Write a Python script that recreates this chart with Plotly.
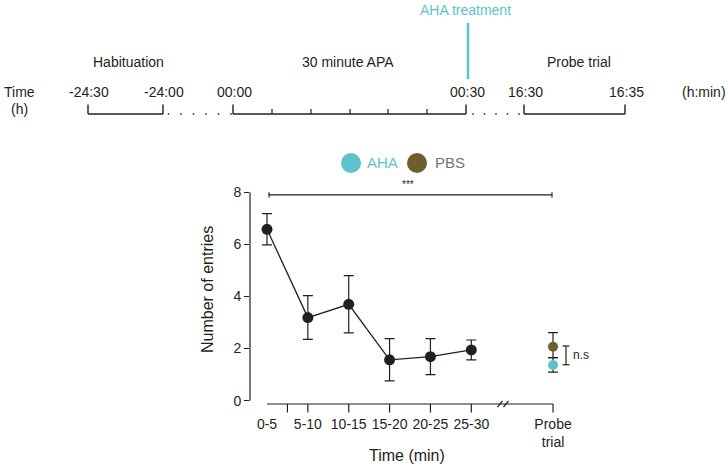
import plotly.graph_objects as go

# ---------------- data ----------------
time_bins = ["0-5", "5-10", "10-15", "15-20", "20-25", "25-30"]
entries_mean = [6.58, 3.19, 3.70, 1.57, 1.69, 1.95]
entries_err = [0.60, 0.84, 1.10, 0.81, 0.69, 0.38]
probe_label = "Probe<br>trial"
aha_probe_mean = [1.37]
aha_probe_err_plus = [0.28]
aha_probe_err_minus = [0.27]
pbs_probe_mean = [2.07]
pbs_probe_err_plus = [0.54]
pbs_probe_err_minus = [0.42]
y_tick_values = [0, 2, 4, 6, 8]
timeline_tick_labels = ["-24:30", "-24:00", "00:00", "00:30", "16:30", "16:35"]
phase_labels = ["Habituation", "30 minute APA", "Probe trial"]
treatment_label = "AHA treatment"
sig_main_label = "***"
sig_probe_label = "n.s"
legend_labels = ["AHA", "PBS"]

# ---------------- layout constants ----------------
W, H = 728, 466
L, R, T, B = 250, 600, 185, 404          # plot area in pixels
PX_PER_U = 40.86                          # x px per category step
X0_PX = 267                               # pixel of first category
PX_PER_Y = 26.05
Y_MIN = -0.127
Y_MAX = Y_MIN + (B - T) / PX_PER_Y

CYAN = "#5CC3CE"
BROWN = "#6E5E2C"
INK = "#231F20"
FONT = "Arial, Liberation Sans, Helvetica, sans-serif"

bin_x = list(range(len(time_bins)))
probe_x = 7
minor_tick_x = 0.5


def fx(px):
    return (px - L) / (R - L)


def fy(py):
    return (B - py) / (B - T)


def ux(px):
    return (px - X0_PX) / PX_PER_U


def note(text, x, y, size=14, color=INK, xref="paper", yref="paper", **kw):
    d = dict(text=text, xref=xref, yref=yref, x=x, y=y, showarrow=False,
             xanchor="center", yanchor="middle",
             font=dict(size=size, color=color, family=FONT))
    d.update(kw)
    return d


fig = go.Figure()

# main time course
fig.add_trace(go.Scatter(
    x=bin_x, y=entries_mean, mode="lines+markers",
    line=dict(color=INK, width=1.3),
    marker=dict(color=INK, size=11),
    error_y=dict(type="data", array=entries_err, color=INK, thickness=1.2, width=5),
    showlegend=False, hoverinfo="skip"))

# probe trial points
fig.add_trace(go.Scatter(
    x=[probe_x], y=pbs_probe_mean, mode="markers",
    marker=dict(color=BROWN, size=10),
    error_y=dict(type="data", array=pbs_probe_err_plus, arrayminus=pbs_probe_err_minus,
                 color=INK, thickness=1.2, width=5),
    showlegend=False, hoverinfo="skip"))
fig.add_trace(go.Scatter(
    x=[probe_x], y=aha_probe_mean, mode="markers",
    marker=dict(color=CYAN, size=10),
    error_y=dict(type="data", array=aha_probe_err_plus, arrayminus=aha_probe_err_minus,
                 color=INK, thickness=1.2, width=5),
    showlegend=False, hoverinfo="skip"))

shapes = []
annotations = []
line_style = dict(color=INK, width=1.2)

# y axis line (0..8)
shapes.append(dict(type="line", xref="paper", yref="y", x0=0, x1=0,
                   y0=y_tick_values[0], y1=y_tick_values[-1], line=line_style))
# x axis line
shapes.append(dict(type="line", xref="x", yref="paper", x0=bin_x[0], x1=probe_x,
                   y0=0, y1=0, line=line_style))
# axis break slashes
for bx in (ux(500), ux(506)):
    shapes.append(dict(type="line", xref="x", yref="paper",
                       x0=bx - 2.5 / PX_PER_U, x1=bx + 2.5 / PX_PER_U,
                       y0=fy(407), y1=fy(401), line=line_style))
# x tick marks
for tx in [minor_tick_x] + bin_x[1:] + [probe_x]:
    shapes.append(dict(type="line", xref="x", yref="paper", x0=tx, x1=tx,
                       y0=0, y1=fy(412.5), line=line_style))

# significance bar ***
sig_y = 7.9
shapes.append(dict(type="line", xref="x", yref="y", x0=ux(269), x1=ux(552),
                   y0=sig_y, y1=sig_y, line=line_style))
for ex in (ux(269), ux(552)):
    shapes.append(dict(type="line", xref="x", yref="y", x0=ex, x1=ex,
                       y0=sig_y - 0.1, y1=sig_y + 0.1, line=line_style))
annotations.append(note(sig_main_label, ux(408), 8.03, size=10, xref="x", yref="y",
                        yanchor="bottom"))

# n.s bracket
nsx = ux(566)
ns_lo, ns_hi = 1.38, 2.10
shapes.append(dict(type="line", xref="x", yref="y", x0=nsx, x1=nsx, y0=ns_lo, y1=ns_hi,
                   line=line_style))
for yy in (ns_lo, ns_hi):
    shapes.append(dict(type="line", xref="x", yref="y", x0=nsx - 3.5 / PX_PER_U,
                       x1=nsx + 3.5 / PX_PER_U, y0=yy, y1=yy, line=line_style))
annotations.append(note(sig_probe_label, ux(571), 1.74, size=12, xref="x", yref="y",
                        xanchor="left"))

# legend (drawn)
for cx, col, lab, tx, tcol in [(351, CYAN, legend_labels[0], 382, CYAN),
                               (417, BROWN, legend_labels[1], 450, "#737373")]:
    shapes.append(dict(type="circle", xref="paper", yref="paper",
                       x0=fx(cx - 10), x1=fx(cx + 10), y0=fy(173), y1=fy(153),
                       fillcolor=col, line=dict(width=0)))
    annotations.append(note(lab, fx(tx), fy(163), size=15, color=tcol))

# axis titles
annotations.append(note("Time (min)", fx(407), fy(455), size=16))
annotations.append(note("Number of entries", fx(207), fy(290), size=16, textangle=-90))

# ---------------- timeline (schematic) ----------------
base_y = 114
tl_tick_px = [88, 163, 233, 466, 524, 625]
segments = [(0, 1), (2, 3), (4, 5)]
for a, b in segments:
    shapes.append(dict(type="line", xref="paper", yref="paper",
                       x0=fx(tl_tick_px[a]), x1=fx(tl_tick_px[b]),
                       y0=fy(base_y), y1=fy(base_y), line=dict(color=INK, width=1.4)))
for px in tl_tick_px:
    shapes.append(dict(type="line", xref="paper", yref="paper", x0=fx(px), x1=fx(px),
                       y0=fy(base_y), y1=fy(104.5), line=dict(color=INK, width=1.4)))
for px in [272, 311, 350, 388, 427]:
    shapes.append(dict(type="line", xref="paper", yref="paper", x0=fx(px), x1=fx(px),
                       y0=fy(base_y), y1=fy(109), line=dict(color=INK, width=1.2)))
for px in [168.5, 181, 193.5, 206, 218.5, 231, 473, 484.5, 496, 507.5, 519]:
    shapes.append(dict(type="circle", xref="paper", yref="paper",
                       x0=fx(px - 0.9), x1=fx(px + 0.9), y0=fy(base_y + 0.9),
                       y1=fy(base_y - 0.9), fillcolor="#444", line=dict(width=0)))

for lab, px in zip(timeline_tick_labels, tl_tick_px):
    annotations.append(note(lab, fx(px + 1), fy(92)))
annotations.append(note("Time", fx(19), fy(92)))
annotations.append(note("(h)", fx(19), fy(109)))
annotations.append(note("(h:min)", fx(704), fy(92)))
for lab, px in zip(phase_labels, [128, 348, 579]):
    annotations.append(note(lab, fx(px), fy(62)))

# AHA treatment marker
shapes.append(dict(type="line", xref="paper", yref="paper", x0=fx(468), x1=fx(468),
                   y0=fy(23), y1=fy(79), line=dict(color=CYAN, width=2.5)))
annotations.append(note(treatment_label, fx(465), fy(10), color=CYAN))

fig.update_layout(
    width=W, height=H,
    margin=dict(l=L, r=W - R, t=T, b=H - B, pad=0),
    paper_bgcolor="white", plot_bgcolor="white",
    font=dict(family=FONT, color=INK, size=14),
    shapes=shapes, annotations=annotations,
    xaxis=dict(range=[ux(L), ux(R)], showgrid=False, zeroline=False, showline=False,
               tickmode="array", tickvals=bin_x + [probe_x],
               ticktext=time_bins + [probe_label], ticks="",
               ticklabelstandoff=10,
               tickfont=dict(size=14, color=INK, family=FONT)),
    yaxis=dict(range=[Y_MIN, Y_MAX], showgrid=False, zeroline=False, showline=False,
               tickmode="array", tickvals=y_tick_values, ticks="outside", ticklen=5,
               tickwidth=1.2, tickcolor=INK,
               tickfont=dict(size=14, color=INK, family=FONT)),
    showlegend=False,
)

fig.write_html("out.html", config={"displayModeBar": False},
               post_script="document.body.style.margin='0';document.body.style.overflow='hidden';")
